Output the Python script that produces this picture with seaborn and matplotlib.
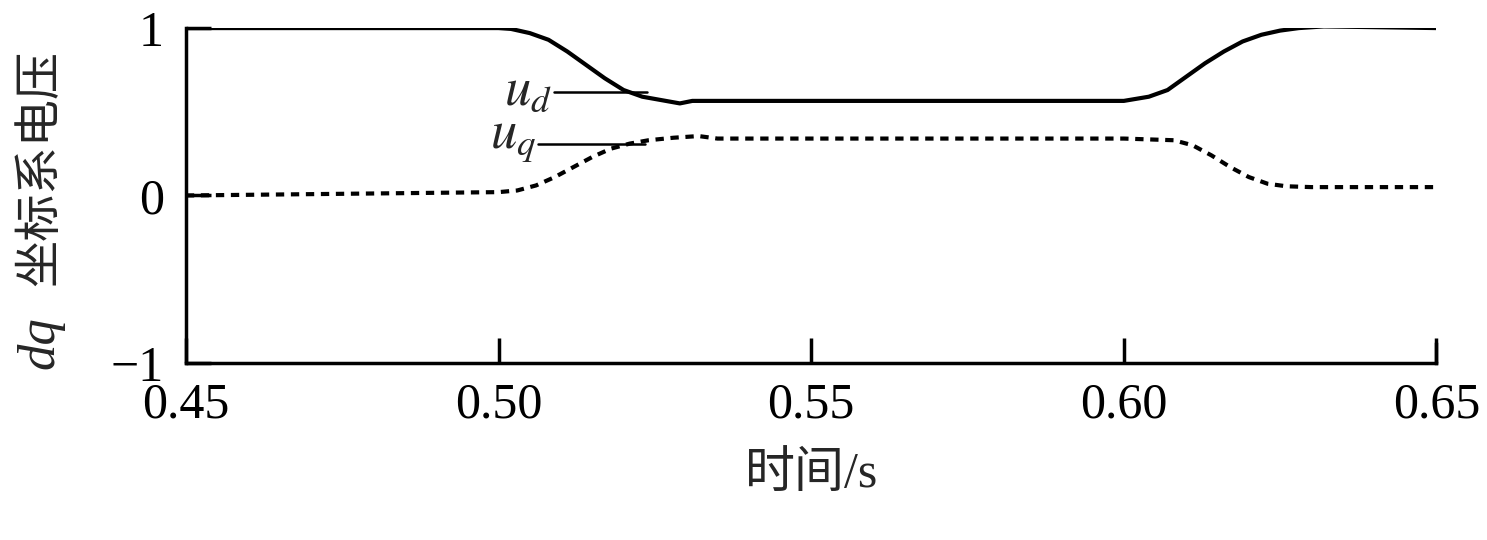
import numpy as np
import pandas as pd
import matplotlib
matplotlib.use('Agg')
import matplotlib.pyplot as plt
import seaborn as sns

sns.set_style('ticks')
plt.rcParams['font.family'] = ['Liberation Serif', 'Noto Sans CJK SC']
plt.rcParams['mathtext.fontset'] = 'stix'

# 读图得到的数据点
t_d = [0.45, 0.50, 0.502, 0.505, 0.508, 0.511, 0.514, 0.517, 0.520, 0.523, 0.526, 0.529, 0.531,
       0.55, 0.58, 0.600, 0.604, 0.607, 0.610, 0.613, 0.616, 0.619, 0.622, 0.625, 0.628, 0.632, 0.65]
u_d = [1.0, 1.0, 0.995, 0.97, 0.93, 0.86, 0.78, 0.70, 0.63, 0.59, 0.57, 0.55, 0.565,
       0.565, 0.565, 0.565, 0.59, 0.63, 0.71, 0.79, 0.86, 0.92, 0.96, 0.985, 1.0, 1.01, 1.0]
t_q = [0.45, 0.50, 0.503, 0.506, 0.509, 0.512, 0.515, 0.518, 0.521, 0.524, 0.528, 0.532, 0.535,
       0.56, 0.60, 0.608, 0.611, 0.614, 0.617, 0.620, 0.623, 0.626, 0.63, 0.65]
u_q = [0.0, 0.02, 0.03, 0.06, 0.11, 0.17, 0.23, 0.28, 0.31, 0.33, 0.345, 0.355, 0.34,
       0.34, 0.34, 0.33, 0.30, 0.24, 0.17, 0.11, 0.07, 0.055, 0.05, 0.05]

fig = plt.figure(figsize=(14.87, 5.4), dpi=100)
ax = fig.add_axes([0.125, 0.328, 0.841, 0.62])

sns.lineplot(x=t_d, y=u_d, ax=ax, color='black', linewidth=3)
sns.lineplot(x=t_q, y=u_q, ax=ax, color='black', linewidth=3, linestyle=(0, (2, 1.6)))

ax.set_xlim(0.45, 0.65)
ax.set_ylim(-1, 1)
ax.set_xticks([0.45, 0.50, 0.55, 0.60, 0.65])
ax.set_xticklabels(['0.45', '0.50', '0.55', '0.60', '0.65'])
ax.set_yticks([-1, 0, 1])
ax.set_yticklabels(['−1', '0', '1'])
ax.tick_params(direction='in', length=18, width=2.5, labelsize=36, colors='black')
ax.tick_params(axis='x', pad=14)
ax.tick_params(axis='y', pad=16)
ax.spines['top'].set_visible(False)
for s in ['left', 'bottom', 'right']:
    ax.spines[s].set_linewidth(2.5)
    ax.spines[s].set_color('black')
ax.spines['right'].set_bounds(-1, -0.89)

ax.set_xlabel('时间/s', fontsize=36, labelpad=16)
# 纵轴标签：斜体 dq + 中文
fig.text(0.027, 0.365, 'dq', fontsize=38, style='italic', family='Liberation Serif',
         rotation=90, ha='center', va='center')
fig.text(0.027, 0.69, '坐标系电压', fontsize=34, family='Noto Sans CJK SC',
         rotation=90, ha='center', va='center')

# 曲线标注
ax.plot([0.5088, 0.5238], [0.62, 0.62], color='black', lw=1.8)
ax.text(0.5085, 0.62, '$u_d$', fontsize=38, ha='right', va='center')
ax.plot([0.5063, 0.5235], [0.31, 0.31], color='black', lw=1.8)
ax.text(0.506, 0.33, '$u_q$', fontsize=38, ha='right', va='center')

fig.savefig('out.png', dpi=100, facecolor='white')
